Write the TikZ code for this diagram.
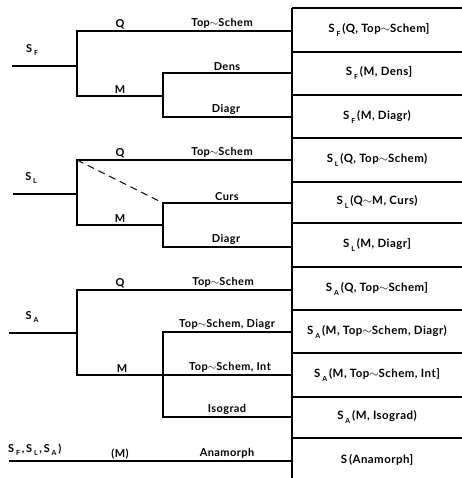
\documentclass[tikz,border=0pt]{standalone}
\usepackage{fontspec}
\setmainfont{Lato}[LetterSpace=4]
\newcommand{\lowidx}[1]{\,\raisebox{-0.55ex}{\fontsize{7}{7}\selectfont #1}\,}
\newcommand{\tl}{\raisebox{0.05ex}{$\sim$}}
\begin{document}
\begin{tikzpicture}[x=1bp,y=-1bp,
  every node/.style={font=\fontsize{11}{13}\selectfont\bfseries, inner sep=1.5pt},
  tree/.style={line width=1.1pt},
  grid/.style={line width=1.1pt},
  lbl/.style={above, inner sep=2pt},
  cell/.style={anchor=center, font=\fontsize{11.5}{13}\selectfont\bfseries}]
\useasboundingbox (0,0) rectangle (462,478);

% ---- table on the right ----
\coordinate (vt) at (292,8);
\coordinate (vb) at (292,478);
\draw[grid] (vt) -- (vb);
\foreach \y in {8,52,95,138,182,223,267,310,353,397,438}
  \draw[grid] (292,\y) -- (462,\y);

\node[cell] (c1)  at (379,30)  {S\lowidx{F}(Q,\ Top\tl Schem]};
\node[cell] (c2)  at (379,73)  {S\lowidx{F}(M,\ Dens]};
\node[cell] (c3)  at (377,117) {S\lowidx{F}(M,\ Diagr)};
\node[cell] (c4)  at (377,160) {S\lowidx{L}(Q,\ Top\tl Schem)};
\node[cell] (c5)  at (377,202) {S\lowidx{L}(Q\tl M,\ Curs)};
\node[cell] (c6)  at (377,245) {S\lowidx{L}(M,\ Diagr]};
\node[cell] (c7)  at (377,289) {S\lowidx{A}(Q,\ Top\tl Schem]};
\node[cell] (c8)  at (377,332) {S\lowidx{A}(M,\ Top\tl Schem,\ Diagr)};
\node[cell] (c9)  at (377,375) {S\lowidx{A}(M,\ Top\tl Schem,\ Int]};
\node[cell] (c10) at (377,417) {S\lowidx{A}(M,\ Isograd)};
\node[cell] (c11) at (377,460) {S\,(Anamorph]};

% ---- group F ----
\coordinate (f0) at (12,66);
\coordinate (fr) at (77,66);
\coordinate (fq) at (77,31);
\coordinate (fm) at (77,96);
\coordinate (fmr) at (163,96);
\coordinate (fa) at (163,73);
\coordinate (fb) at (163,117);
\coordinate (fqe) at (292,31);
\coordinate (fae) at (292,73);
\coordinate (fbe) at (292,117);
\draw[tree] (f0) -- (fr);
\draw[tree] (fqe) -- (fq) -- (fm) -- (fmr);
\draw[tree] (fae) -- (fa) -- (fb) -- (fbe);
\node[lbl] (fS) at (33,58) {S\lowidx{F}};
\node[lbl] (fQ) at (120,31) {Q};
\node[lbl] (fM) at (120,96) {M};
\node[lbl] (fT) at (222,31) {Top\tl Schem};
\node[lbl] (fD) at (227,73) {Dens};
\node[lbl] (fG) at (226,117) {Diagr};

% ---- group L ----
\coordinate (l0) at (13,194);
\coordinate (lr) at (77,194);
\coordinate (lq) at (77,160);
\coordinate (lm) at (77,225);
\coordinate (lmr) at (163,225);
\coordinate (la) at (163,203);
\coordinate (lb) at (163,247);
\coordinate (lqe) at (292,160);
\coordinate (lae) at (292,203);
\coordinate (lbe) at (292,247);
\draw[tree] (l0) -- (lr);
\draw[tree] (lqe) -- (lq) -- (lm) -- (lmr);
\draw[tree] (lae) -- (la) -- (lb) -- (lbe);
\draw[tree, dash pattern=on 7pt off 5pt] (lq) -- (la);
\node[lbl] (lS) at (32,186) {S\lowidx{L}};
\node[lbl] (lQ) at (120,160) {Q};
\node[lbl] (lM) at (120,225) {M};
\node[lbl] (lT) at (222,160) {Top\tl Schem};
\node[lbl] (lC) at (227,203) {Curs};
\node[lbl] (lG) at (226,247) {Diagr};

% ---- group A ----
\coordinate (a0) at (9,333);
\coordinate (ar) at (77,333);
\coordinate (aq) at (77,290);
\coordinate (am) at (77,375);
\coordinate (amr) at (163,375);
\coordinate (aa) at (163,332);
\coordinate (ab) at (163,417);
\coordinate (aqe) at (292,290);
\coordinate (aae) at (292,332);
\coordinate (ame) at (292,375);
\coordinate (abe) at (292,417);
\draw[tree] (a0) -- (ar);
\draw[tree] (aqe) -- (aq) -- (am) -- (ame);
\draw[tree] (aae) -- (aa) -- (ab) -- (abe);
\node[lbl] (aS) at (33,325) {S\lowidx{A}};
\node[lbl] (aQ) at (120,290) {Q};
\node[lbl] (aM) at (122,375) {M};
\node[lbl] (aT) at (223,290) {Top\tl Schem};
\node[lbl] (aD) at (227,332) {Top\tl Schem,\ Diagr};
\node[lbl] (aI) at (230,375) {Top\tl Schem,\ Int};
\node[lbl] (aG) at (227,417) {Isograd};

% ---- common row ----
\coordinate (n0) at (9,461);
\coordinate (ne) at (292,461);
\draw[tree] (n0) -- (ne);
\node[lbl, anchor=south west] (nS) at (6,458) {S\lowidx{F},\,S\lowidx{L},\,S\lowidx{A})};
\node[lbl] (nM) at (120,461) {(M)};
\node[lbl] (nA) at (227,461) {Anamorph};
\end{tikzpicture}
\end{document}
